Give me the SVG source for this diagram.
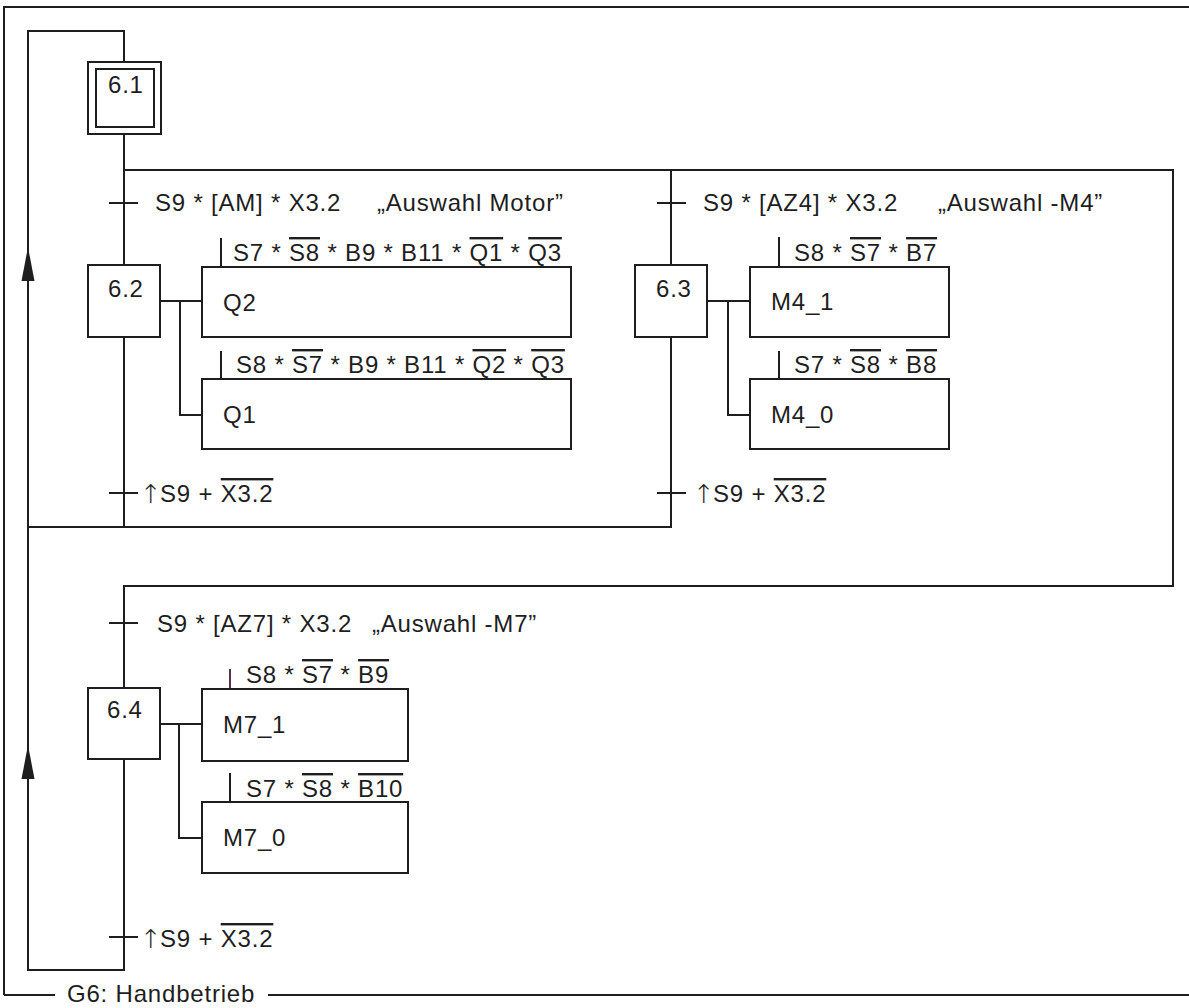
<svg xmlns="http://www.w3.org/2000/svg" width="1189" height="1008" viewBox="0 0 1189 1008">
<style>
.ln{stroke:#1e1e1e;stroke-width:2;fill:none}
.bx{stroke:#1e1e1e;stroke-width:2;fill:#fff}
.ar{fill:#1e1e1e;stroke:none}
text{font-family:"Liberation Sans",Arial,Helvetica,sans-serif;font-size:24px;fill:#1e1e1e;letter-spacing:0.8px}
.ov{text-decoration:overline}
.up{font-family:"DejaVu Sans",sans-serif;font-weight:200;font-size:26px;letter-spacing:0;text-anchor:middle}
</style>
<rect width="1189" height="1008" fill="#fff"/>
<g id="connectors">
<path class="ln" d="M4,995 V7 H1189 M4,995 H55 M268,995 H1189"/>
<path class="ln" d="M124,62 V31 H28 V970 H124 V759"/>
<polygon class="ar" points="28,247 21.5,281 34.5,281"/>
<polygon class="ar" points="28,745 21.5,779 34.5,779"/>
<path class="ln" d="M124,134 V265 M124,170 H1173 V586 H124 V688 M671,170 V265 M124,337 V527 M28,527 H671 V337"/>
<path class="ln" d="M109,203 H138 M657,203 H686 M109,493 H138 M657,493 H686 M109,623 H138 M109,937 H138"/>
<path class="ln" d="M160,301 H202 M180,301 V415 H202 M707,301 H750 M728,301 V415 H750 M160,724 H202 M179,724 V838 H202"/>
<path class="ln" d="M221,238 V267 M221,351 V379 M779,237 V267 M779,351 V379 M230,773 V802"/>
<path d="M230,669 V689" stroke="#5a2d4a" stroke-width="2"/>
</g>
<g id="step-6.1"><rect class="bx" x="88" y="62" width="73" height="72"/><rect class="bx" x="96" y="69" width="58" height="58"/><text x="108" y="93">6.1</text></g>
<g id="step-6.2"><rect class="bx" x="88" y="265" width="72" height="72"/><text x="108" y="297">6.2</text></g>
<g id="step-6.3"><rect class="bx" x="635" y="265" width="72" height="72"/><text x="656" y="297">6.3</text></g>
<g id="step-6.4"><rect class="bx" x="88" y="688" width="72" height="71"/><text x="107" y="718">6.4</text></g>
<g id="action-Q2"><rect class="bx" x="202" y="267" width="369" height="70"/><text x="223" y="311">Q2</text>
<text x="233" y="261">S7 * <tspan class="ov">S8</tspan> * B9 * B11 * <tspan class="ov">Q1</tspan> * <tspan class="ov">Q3</tspan></text></g>
<g id="action-Q1"><rect class="bx" x="202" y="379" width="369" height="70"/><text x="223" y="423">Q1</text>
<text x="236" y="373">S8 * <tspan class="ov">S7</tspan> * B9 * B11 * <tspan class="ov">Q2</tspan> * <tspan class="ov">Q3</tspan></text></g>
<g id="action-M4_1"><rect class="bx" x="750" y="267" width="199" height="70"/><text x="771" y="310">M4_1</text>
<text x="794" y="261">S8 * <tspan class="ov">S7</tspan> * <tspan class="ov">B7</tspan></text></g>
<g id="action-M4_0"><rect class="bx" x="750" y="379" width="199" height="70"/><text x="771" y="423">M4_0</text>
<text x="794" y="373">S7 * <tspan class="ov">S8</tspan> * <tspan class="ov">B8</tspan></text></g>
<g id="action-M7_1"><rect class="bx" x="202" y="689" width="206" height="72"/><text x="223" y="733">M7_1</text>
<text x="246" y="683">S8 * <tspan class="ov">S7</tspan> * <tspan class="ov">B9</tspan></text></g>
<g id="action-M7_0"><rect class="bx" x="202" y="802" width="206" height="71"/><text x="223" y="846">M7_0</text>
<text x="246" y="797">S7 * <tspan class="ov">S8</tspan> * <tspan class="ov">B10</tspan></text></g>
<g id="transitions">
<text x="155" y="211">S9 * [AM] * X3.2</text><text x="377" y="211">„Auswahl Motor”</text>
<text x="703" y="211">S9 * [AZ4] * X3.2</text><text x="938" y="211">„Auswahl -M4”</text>
<text x="157" y="632">S9 * [AZ7] * X3.2</text><text x="372" y="632">„Auswahl -M7”</text>
<text class="up" x="151" y="503">↑</text><text x="160" y="502">S9 + <tspan class="ov">X3.2</tspan></text>
<text class="up" x="704" y="503">↑</text><text x="713" y="502">S9 + <tspan class="ov">X3.2</tspan></text>
<text class="up" x="151" y="948">↑</text><text x="160" y="947">S9 + <tspan class="ov">X3.2</tspan></text>
</g>
<g id="title"><text x="67" y="1002">G6: Handbetrieb</text></g>
</svg>
